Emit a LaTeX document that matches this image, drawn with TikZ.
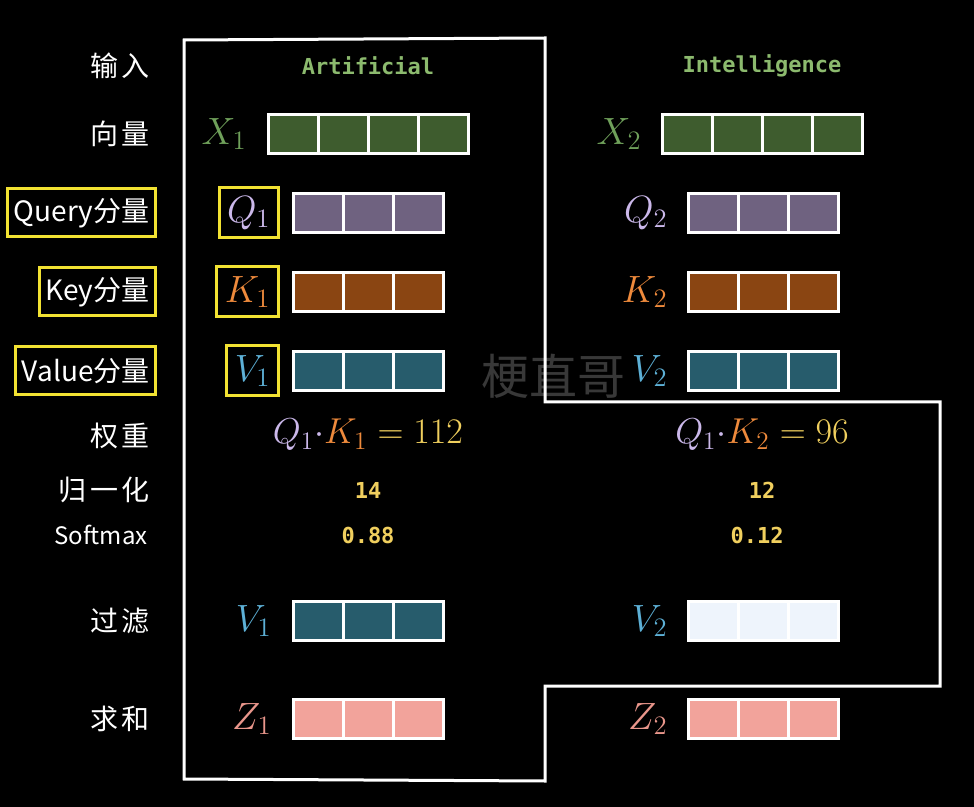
\RequirePackage{fix-cm}
\documentclass[tikz,border=0pt]{standalone}
\usepackage{fontspec}
\newfontfamily\cjk{Noto Sans CJK SC}
\newfontfamily\cjksp[LetterSpace=12]{Noto Sans CJK SC}
\newfontfamily\monob{DejaVu Sans Mono}
\definecolor{gfill}{HTML}{3E5C2E}
\definecolor{glab}{HTML}{6FA05A}
\definecolor{gtxt}{HTML}{8CBA6E}
\definecolor{pfill}{HTML}{6F6280}
\definecolor{qlab}{HTML}{CBB8EA}
\definecolor{bfill}{HTML}{8A4512}
\definecolor{klab}{HTML}{EE8A3C}
\definecolor{tfill}{HTML}{275C6C}
\definecolor{vlab}{HTML}{5DB0D6}
\definecolor{lfill}{HTML}{EEF4FC}
\definecolor{zfill}{HTML}{F2A39B}
\definecolor{zlab}{HTML}{E9968B}
\definecolor{num}{HTML}{F0CF5E}
\definecolor{ybox}{HTML}{F2E232}
\newcommand\vecrow[5]{%
  \foreach \i in {1,...,#4} {
    \node[cell, fill=#5] (#1\i) at ({#2+25+50*(\i-1)}, #3) {};
  }}
\tikzset{
  cell/.style={draw=white, line width=1.5pt, minimum width=25pt, minimum height=19.5pt, inner sep=0pt, outer sep=0pt},
  lab/.style={text=white, font=\cjksp\fontsize{14}{16}\selectfont, anchor=east, inner sep=0pt},
  yl/.style={draw=ybox, line width=1.5pt, text=white, font=\cjk\fontsize{14}{16}\selectfont, anchor=east, minimum height=24pt, inner xsep=3pt},
  sym/.style={anchor=east, inner sep=0pt, font=\fontsize{19}{22}\selectfont},
  ysym/.style={anchor=east, draw=ybox, line width=1.5pt, inner xsep=4pt, minimum height=25pt, font=\fontsize{19}{22}\selectfont},
  word/.style={text=gtxt, font=\monob\bfseries\fontsize{11}{13}\selectfont},
  nums/.style={text=num, font=\monob\bfseries\fontsize{11}{13}\selectfont},
  eq/.style={font=\fontsize{18}{22}\selectfont},
  outline/.style={draw=white, line width=1.5pt},
}
\begin{document}
\begin{tikzpicture}[x=0.5pt, y=-0.5pt]
\fill[black] (0,0) rectangle (974,807);
\useasboundingbox (0,0) rectangle (974,807);
% outline
\draw[outline] (184,40) -- (545,38) -- (545,402) -- (940,402) -- (940,686) -- (545,686) -- (545,781) -- (184,779) -- cycle;
% left labels
\node[lab] (l1) at (150,66) {输入};
\node[lab] (l2) at (150,134) {向量};
\node[yl] (l3) at (157,213) {Query分量};
\node[yl] (l4) at (157,292) {Key分量};
\node[yl] (l5) at (157,371) {Value分量};
\node[lab] (l6) at (150,436) {权重};
\node[lab] (l7) at (150,490) {归一化};
\node[lab, font=\cjk\fontsize{12}{14}\selectfont] (l8) at (148,535) {Softmax};
\node[lab] (l9) at (150,621) {过滤};
\node[lab] (l10) at (150,719) {求和};
% words
\node[word] (w1) at (368,66) {Artificial};
\node[word] (w2) at (762,66) {Intelligence};
% X row
\node[sym, text=glab] (x1l) at (247,134) {$X_1$};
\vecrow{xa}{268}{134}{4}{gfill}
\node[sym, text=glab] (x2l) at (642,134) {$X_2$};
\vecrow{xb}{662}{134}{4}{gfill}
% Q row
\node[ysym, text=qlab] (q1l) at (280,213) {$Q_1$};
\vecrow{qa}{293}{213}{3}{pfill}
\node[sym, text=qlab] (q2l) at (668,213) {$Q_2$};
\vecrow{qb}{688}{213}{3}{pfill}
% K row
\node[ysym, text=klab] (k1l) at (280,292) {$K_1$};
\vecrow{ka}{293}{292}{3}{bfill}
\node[sym, text=klab] (k2l) at (668,292) {$K_2$};
\vecrow{kb}{688}{292}{3}{bfill}
% V row
\node[ysym, text=vlab] (v1l) at (280,371) {$V_1$};
\vecrow{va}{293}{371}{3}{tfill}
\node[sym, text=vlab] (v2l) at (668,371) {$V_2$};
\vecrow{vb}{688}{371}{3}{tfill}
% weights
\node[eq] (e1) at (368,435) {$\color{qlab}Q_1{\cdot}\color{klab}K_1\color{num}=112$};
\node[eq] (e2) at (762,435) {$\color{qlab}Q_1{\cdot}\color{klab}K_2\color{num}=96$};
\node[nums] (n1) at (368,490) {14};
\node[nums] (n2) at (762,490) {12};
\node[nums] (s1) at (368,535) {0.88};
\node[nums] (s2) at (757,535) {0.12};
% filter
\node[sym, text=vlab] (f1l) at (272,621) {$V_1$};
\vecrow{fa}{293}{621}{3}{tfill}
\node[sym, text=vlab] (f2l) at (668,621) {$V_2$};
\vecrow{fb}{688}{621}{3}{lfill}
% sum
\node[sym, text=zlab] (z1l) at (272,719) {$Z_1$};
\vecrow{za}{293}{719}{3}{zfill}
\node[sym, text=zlab] (z2l) at (668,719) {$Z_2$};
\vecrow{zb}{688}{719}{3}{zfill}
% watermark
\node[text=white, text opacity=0.22, font=\cjk\fontsize{24}{28}\selectfont] (wm) at (553,376) {梗直哥};
\end{tikzpicture}
\end{document}
